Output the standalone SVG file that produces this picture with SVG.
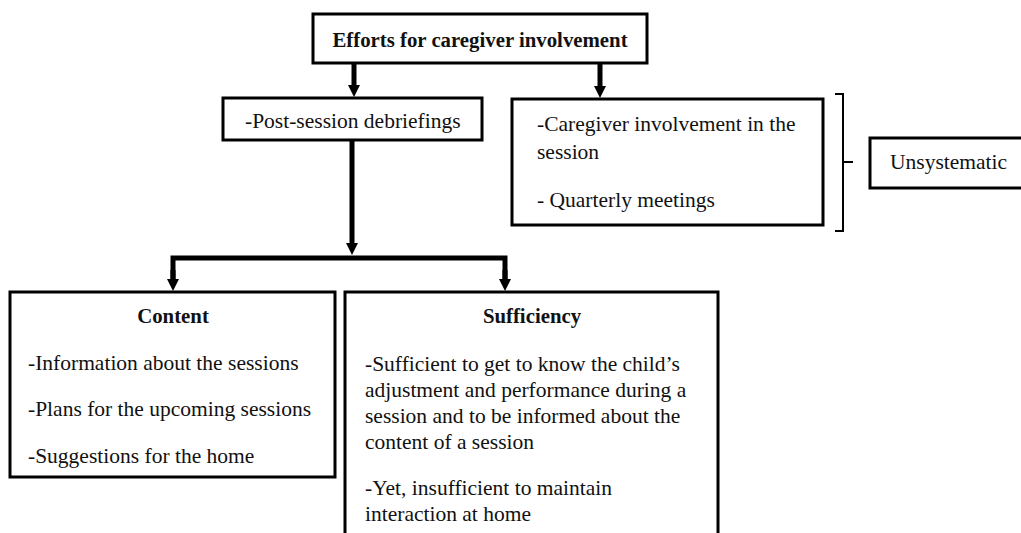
<svg xmlns="http://www.w3.org/2000/svg" width="1021" height="533" viewBox="0 0 1021 533">
<style>
.box{fill:#fff;stroke:#000;stroke-width:3}
.t{font-family:"Liberation Serif","Times New Roman",serif;font-size:21.5px;fill:#111}
.b{font-weight:bold;font-size:20.8px}
.c{fill:none;stroke:#000;stroke-width:5}
.br{fill:none;stroke:#000;stroke-width:2}
</style>
<defs>
<marker id="ah" viewBox="0 0 12 12" refX="2" refY="6" markerWidth="12" markerHeight="12" orient="auto" markerUnits="userSpaceOnUse">
<path d="M0,0 L12,6 L0,12 z" fill="#000"/>
</marker>
</defs>
<rect width="1021" height="533" fill="#fff"/>
<g id="connectors">
<path class="c" d="M354,63 V87" marker-end="url(#ah)"/>
<path class="c" d="M600,63 V88" marker-end="url(#ah)"/>
<path class="c" d="M352,140 V245" marker-end="url(#ah)"/>
<path class="c" d="M173,281 V258 H505 V280" stroke-linejoin="miter"/>
<path class="c" d="M173,270 V281" marker-end="url(#ah)"/>
<path class="c" d="M505,270 V281" marker-end="url(#ah)"/>
<path class="br" d="M835,94 H843 V231 H835 M843,162 H853"/>
</g>
<g id="top">
<rect class="box" x="313" y="14" width="334" height="49"/>
<text class="t b" x="480" y="47" text-anchor="middle">Efforts for caregiver involvement</text>
</g>
<g id="debrief">
<rect class="box" x="223" y="98" width="259" height="42"/>
<text class="t" x="245" y="128">-Post-session debriefings</text>
</g>
<g id="involvement">
<rect class="box" x="512" y="99" width="311" height="126"/>
<text class="t" x="537" y="131">-Caregiver involvement in the</text>
<text class="t" x="537" y="159">session</text>
<text class="t" x="537" y="207">- Quarterly meetings</text>
</g>
<g id="unsystematic">
<rect class="box" x="870" y="138" width="160" height="50"/>
<text class="t" x="890" y="169">Unsystematic</text>
</g>
<g id="content">
<rect class="box" x="10" y="292" width="325" height="185"/>
<text class="t b" x="173" y="323" text-anchor="middle">Content</text>
<text class="t" x="28" y="370">-Information about the sessions</text>
<text class="t" x="28" y="416">-Plans for the upcoming sessions</text>
<text class="t" x="28" y="463">-Suggestions for the home</text>
</g>
<g id="sufficiency">
<rect class="box" x="345" y="292" width="373" height="250"/>
<text class="t b" x="532" y="323" text-anchor="middle">Sufficiency</text>
<text class="t" x="365" y="371">-Sufficient to get to know the child’s</text>
<text class="t" x="365" y="397">adjustment and performance during a</text>
<text class="t" x="365" y="423">session and to be informed about the</text>
<text class="t" x="365" y="449">content of a session</text>
<text class="t" x="365" y="495">-Yet, insufficient to maintain</text>
<text class="t" x="365" y="521">interaction at home</text>
</g>
</svg>
